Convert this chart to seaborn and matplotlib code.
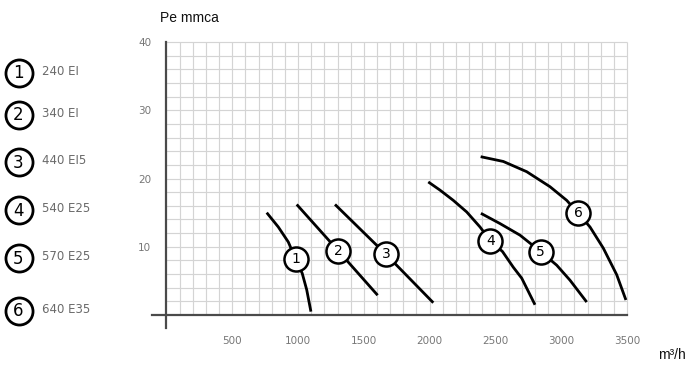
import numpy as np
import pandas as pd
import matplotlib
matplotlib.use("Agg")
import matplotlib.pyplot as plt
import seaborn as sns

# ---------------- data ----------------
series_ids = ["1", "2", "3", "4", "5", "6"]
series_names = ["240 EI", "340 EI", "440 EI5", "540 E25", "570 E25", "640 E35"]

c1_x = [762, 850, 926, 982, 1032, 1066, 1098]
c1_y = [15.0, 12.9, 10.7, 8.2, 6.1, 3.7, 0.5]
c2_x = [990, 1306, 1605]
c2_y = [16.2, 9.4, 2.9]
c3_x = [1281, 1668, 2028]
c3_y = [16.2, 8.9, 1.8]
c4_x = [1990, 2079, 2180, 2282, 2383, 2461, 2554, 2636, 2700, 2801]
c4_y = [19.5, 18.3, 16.8, 15.1, 12.9, 10.9, 9.3, 7.0, 5.4, 1.5]
c5_x = [2390, 2535, 2687, 2843, 2966, 3067, 3194]
c5_y = [14.9, 13.4, 11.7, 9.3, 7.3, 5.1, 1.9]
c6_x = [2388, 2560, 2738, 2915, 3042, 3130, 3219, 3320, 3422, 3492]
c6_y = [23.2, 22.5, 21.0, 18.8, 16.8, 14.9, 12.9, 9.8, 5.9, 2.2]

label_x = [982, 1306, 1668, 2461, 2843, 3130]
label_y = [8.2, 9.4, 8.9, 10.9, 9.3, 14.9]

x_ticks = [500, 1000, 1500, 2000, 2500, 3000, 3500]
y_ticks = [10, 20, 30, 40]

xs = [c1_x, c2_x, c3_x, c4_x, c5_x, c6_x]
ys = [c1_y, c2_y, c3_y, c4_y, c5_y, c6_y]
rows = []
for sid, cx, cy in zip(series_ids, xs, ys):
    for i, (a, b) in enumerate(zip(cx, cy)):
        rows.append({"serie": sid, "order": i, "q": a, "pe": b})
df = pd.DataFrame(rows)

# ---------------- figure ----------------
sns.set_style("white")
plt.rcParams["font.family"] = ["DejaVu Sans"]

W, H = 687, 371
fig = plt.figure(figsize=(W / 100, H / 100), dpi=100)

# legend layer (pixel coordinates)
lax = fig.add_axes([0, 0, 1, 1])
lax.set_xlim(0, W)
lax.set_ylim(H, 0)
lax.axis("off")
leg_y = [73, 115, 162, 210, 258, 311]
lax.scatter([18.5] * 6, leg_y, s=380, facecolor="white", edgecolor="black",
            linewidth=2.0, zorder=3)
for sid, name, yy in zip(series_ids, series_names, leg_y):
    lax.text(18.5, yy + 0.5, sid, ha="center", va="center", fontsize=12,
             color="black", zorder=4)
    lax.text(42, yy - 1.5, name, ha="left", va="center", fontsize=8.5,
             color="#6a6a6a")

# main axes
left_px, right_px, top_px, bot_px = 145, 640, 35, 340
ax = fig.add_axes([left_px / W, 1 - bot_px / H, (right_px - left_px) / W,
                   (bot_px - top_px) / H])
ax.patch.set_alpha(0)
ax.set_xlim(-163, 3599)
ax.set_ylim(-3.66, 41.03)

# grid
ax.vlines(np.arange(100, 3600, 100), 0, 40, color="#d4d4d4", lw=0.85, zorder=0)
ax.hlines(np.arange(2, 42, 2), 0, 3500, color="#d4d4d4", lw=0.85, zorder=0)

# spines as axis lines
for s in ["top", "right"]:
    ax.spines[s].set_visible(False)
ax.spines["bottom"].set_position(("data", 0))
ax.spines["left"].set_position(("data", 0))
ax.spines["bottom"].set_bounds(-110, 3500)
ax.spines["left"].set_bounds(-1.9, 40)
for s in ["bottom", "left"]:
    ax.spines[s].set_color("#4a4a4a")
    ax.spines[s].set_linewidth(1.6)
    ax.spines[s].set_zorder(1)

ax.set_xticks(x_ticks)
ax.set_xticklabels([str(v) for v in x_ticks])
ax.set_yticks(y_ticks)
ax.set_yticklabels([str(v) for v in y_ticks])
ax.tick_params(axis="x", direction="out", length=6, width=0.9, color="#cfcfcf",
               pad=9, labelsize=7.5, labelcolor="#777777")
ax.tick_params(axis="y", direction="out", length=8, width=0.9, color="#cfcfcf",
               pad=3, labelsize=7.5, labelcolor="#777777")

sns.lineplot(data=df, x="q", y="pe", hue="serie", units="serie",
             estimator=None, sort=False, palette=["black"] * 6, lw=2.0,
             legend=False, ax=ax, zorder=3)
for line in ax.get_lines():
    line.set_solid_joinstyle("round")
    line.set_solid_capstyle("butt")
ax.set_xlabel("")
ax.set_ylabel("")

ax.scatter(label_x, label_y, s=300, facecolor="white", edgecolor="black",
           linewidth=1.8, zorder=5)
for sid, lx, ly in zip(series_ids, label_x, label_y):
    ax.text(lx, ly, sid, ha="center", va="center", fontsize=10, color="black",
            zorder=6)

fig.text(160 / W, 1 - 18 / H, "Pe mmca", ha="left", va="center", fontsize=10,
         family=["Liberation Sans Narrow", "Liberation Sans", "DejaVu Sans"],
         color="#111111")
fig.text(686 / W, 1 - 355 / H, "m\u00b3/h", ha="right", va="center",
         fontsize=10,
         family=["Liberation Sans Narrow", "Liberation Sans", "DejaVu Sans"],
         color="#111111")

fig.savefig("out.png", dpi=100)
